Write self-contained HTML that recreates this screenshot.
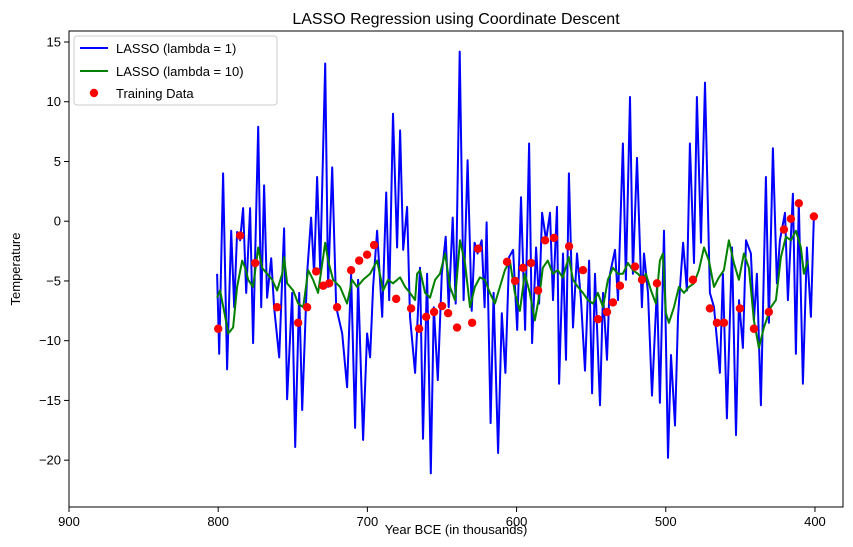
<!DOCTYPE html>
<html><head><meta charset="utf-8">
<style>
html,body{margin:0;padding:0;background:#fff;}
svg{display:block;font-family:"Liberation Sans","DejaVu Sans",sans-serif;}
</style></head>
<body>
<svg id="chart" width="853" height="547" viewBox="0 0 853 547" xmlns="http://www.w3.org/2000/svg">
<rect width="853" height="547" fill="#fff"/>
<text x="456" y="24" text-anchor="middle" font-size="16">LASSO Regression using Coordinate Descent</text>
<text x="456" y="534" text-anchor="middle" font-size="13">Year BCE (in thousands)</text>
<text transform="translate(20,269) rotate(-90)" text-anchor="middle" font-size="13">Temperature</text>
<g id="plot"></g>
<g id="axes"></g>
<g>
  <rect x="74" y="36" width="203" height="69" rx="3" fill="#fff" fill-opacity="0.8" stroke="#ccc"/>
  <line x1="80" y1="48" x2="108" y2="48" stroke="#0000ff" stroke-width="2"/>
  <text x="116" y="53" font-size="13">LASSO (lambda = 1)</text>
  <line x1="80" y1="71" x2="108" y2="71" stroke="#008000" stroke-width="2"/>
  <text x="116" y="76" font-size="13">LASSO (lambda = 10)</text>
  <circle cx="94" cy="93" r="4.2" fill="#ff0000"/>
  <text x="116" y="98" font-size="13">Training Data</text>
</g>
</svg>
<script>
const blueYears=[800.7,799.3,796.7,794,791.3,789.3,787.3,785.3,783.3,781.2,778.6,776.6,773.2,771.2,769.2,767.2,764.5,762.5,759.1,755.8,753.8,750.4,748.4,745.7,743.7,740.4,737.7,735.7,733.7,731.6,728.3,726.3,723.6,720.9,716.9,713.6,710.9,708.2,706.2,702.9,700.2,698.2,696.2,693.5,690.1,687.4,685.4,682.8,680.1,678.1,676,673.4,671.4,668,664.7,662.7,660,657.5,655.5,652.8,650.1,647.5,645.5,642.8,640.8,638.1,635.5,632.8,630.1,628.1,626.1,623.4,621.4,620.1,617.4,615.4,612.4,609.9,607.5,605,602.3,599.6,597,594.3,591.6,589.6,586.9,584.9,582.9,580.2,577.6,575.6,572.9,571.5,568.9,566.9,564.9,562.2,559.5,556.8,554.1,551.4,549.4,547.4,544.1,542.1,539.4,537.4,534,532,528.7,526.7,524,522,519.3,516,514.6,511.9,509.2,505.9,503.9,501.2,498.5,496.5,493.8,491.8,488.4,485.8,483.8,481.1,479.1,476.4,473.7,470.4,467.7,463.7,461.7,459,455.6,452.9,450.9,448.3,446.2,442.9,440.9,438.9,436.2,432.9,430.9,428.2,425.5,423.5,420.1,418.1,414.8,412.8,410.8,408.1,405.4,402.7,400.7];
const blueTemps=[-4.4,-11.1,4.0,-12.4,-0.8,-7.2,-0.9,-1.6,1.1,-6.0,1.1,-10.2,7.9,-7.2,3.0,-6.4,-3.1,-7.2,-11.4,-0.6,-14.9,-6.0,-18.9,-6.0,-15.8,-4.4,0.3,-4.4,3.7,-4.1,13.2,-5.5,4.5,-7.2,-9.4,-13.9,-4.4,-17.3,-4.9,-18.3,-9.4,-11.4,-5.5,-0.8,-8.0,2.4,-6.6,9.0,-2.2,7.6,-2.4,1.2,-8.0,-12.7,-3.9,-18.2,-4.4,-21.1,-7.2,-13.3,-4.4,-1.3,-7.2,0.3,-6.9,14.2,-6.6,5.1,-7.5,-1.8,-2.7,-1.6,-7.2,-0.1,-16.9,-6.0,-19.4,-7.7,-12.7,-3.0,-2.4,-9.1,2.0,-9.1,6.5,-10.2,-2.2,-6.9,0.7,-1.6,0.7,-6.6,1.2,-13.6,-2.7,-11.6,4.0,-8.9,-2.7,-6.6,-12.5,-3.3,-14.4,-4.4,-15.4,-6.0,-11.6,-4.4,-2.4,-6.6,6.5,-4.9,10.4,-4.4,5.3,-7.2,-2.7,-6.0,-14.6,-5.5,-15.2,-0.8,-19.8,-11.2,-17.1,-8.0,-1.8,-5.8,6.5,-3.5,10.4,-1.8,11.6,-6.0,-7.2,-12.7,-4.4,-16.5,-2.2,-17.9,-6.6,-10.6,-1.6,-2.7,-8.3,-4.4,-15.4,3.7,-8.5,6.1,-5.2,-1.6,0.7,-6.6,2.3,-11.1,1.6,-13.6,-2.2,-8.0,0.5];
const greenYears=[800.7,798.7,795.3,793.3,790,787.3,783.9,781.9,779.9,776.6,773.2,770.6,767.2,763.8,760.5,757.1,755.8,753.8,749.7,746.4,743,739.7,736.4,733,728.3,726.3,723,718.3,713.6,710.3,706.9,702.9,698.2,693.5,689.4,686.1,682.8,678.1,674.7,671.4,668,666.7,664.7,661.3,658,654.6,651.3,647.9,644.6,641.3,637.9,634.6,631.2,627.9,624.6,621.2,617.9,614.5,611.2,607.8,604.5,601.2,597.8,594.5,591.1,587.8,584.4,582.4,579.1,575.7,572.4,569,565,562.2,558.9,555.5,552.2,548.8,545.5,542.1,538.8,535.4,532,528.7,525.4,522,518.6,515.3,513.3,509.9,506.6,503.9,501.9,499.9,497.9,494.5,491.2,487.8,484.5,481.1,477.8,474.4,471.1,467.7,464.4,461,457.7,454.3,451,447.6,444.3,440.9,437.6,434.2,429.5,426.2,422.8,419.5,416.1,412.8,409.4,407.4,404.7];
const greenTemps=[-6.4,-5.8,-8.0,-9.4,-8.9,-5.5,-3.3,-3.9,-4.9,-5.5,-2.2,-3.9,-4.4,-4.9,-5.8,-4.4,-3.0,-5.2,-5.8,-6.9,-7.2,-4.1,-4.9,-6.0,-1.8,-3.3,-4.9,-5.5,-6.9,-4.9,-5.5,-4.9,-4.4,-3.3,-5.8,-4.9,-5.2,-4.7,-5.5,-6.0,-6.6,-4.4,-4.1,-6.0,-6.4,-4.9,-4.4,-2.7,-5.5,-6.6,-1.6,-3.5,-7.2,-5.5,-4.7,-4.9,-6.0,-6.9,-5.5,-4.1,-3.3,-6.0,-7.5,-4.4,-6.0,-8.3,-6.0,-3.9,-3.3,-4.4,-4.1,-4.7,-3.0,-4.9,-5.5,-6.0,-6.6,-6.9,-6.0,-7.2,-4.9,-3.9,-4.4,-4.4,-3.5,-4.1,-4.4,-4.9,-4.4,-5.8,-6.9,-3.3,-2.7,-7.7,-8.5,-7.2,-5.5,-6.0,-5.5,-5.2,-4.1,-2.2,-3.3,-5.5,-4.7,-4.1,-1.6,-3.5,-4.9,-2.7,-3.9,-8.3,-10.6,-8.9,-7.2,-6.6,-3.0,-1.3,-1.6,-0.8,-2.2,-4.4,-3.3,-1.8];
const trainYears=[800,785.3,775.2,760.5,746.4,740.4,734.3,729.6,725.6,720.3,710.9,705.5,700.2,695.5,680.7,670.7,665.3,660.6,655.3,649.9,645.9,639.9,629.8,625.8,606.4,601,595.7,590.3,585.6,580.9,574.9,564.8,555.5,545.4,539.4,535.4,530.7,520.6,515.9,505.9,481.8,470.4,465.7,461,450.3,440.9,430.9,420.8,416.1,410.8,400.7];
const trainTemps=[-9.0,-1.2,-3.5,-7.2,-8.5,-7.2,-4.2,-5.4,-5.2,-7.2,-4.1,-3.3,-2.8,-2.0,-6.5,-7.3,-9.0,-8.0,-7.6,-7.1,-7.7,-8.9,-8.5,-2.3,-3.4,-5.0,-3.9,-3.5,-5.8,-1.6,-1.4,-2.1,-4.1,-8.2,-7.6,-6.8,-5.4,-3.8,-4.9,-5.2,-4.9,-7.3,-8.5,-8.5,-7.3,-9.0,-7.6,-0.7,0.2,1.5,0.4];
const xTicks=[900,800,700,600,500,400];
const yTicks=[-20,-15,-10,-5,0,5,10,15];

const L=69,R=843,T=31,B=507;
const xDomain=[900,381.2], yDomain=[-23.92,15.92];
function xs(v){return L+(v-xDomain[0])/(xDomain[1]-xDomain[0])*(R-L);}
function ys(v){return B-(v-yDomain[0])/(yDomain[1]-yDomain[0])*(B-T);}
const NS="http://www.w3.org/2000/svg";
const plot=document.getElementById('plot');
const axes=document.getElementById('axes');
function mk(tag,attrs,parent){const e=document.createElementNS(NS,tag);for(const k in attrs)e.setAttribute(k,attrs[k]);parent.appendChild(e);return e;}

const clip=mk('clipPath',{id:'clipA'},plot);
mk('rect',{x:L,y:T,width:R-L,height:B-T},clip);
const g=mk('g',{'clip-path':'url(#clipA)'},plot);

const bl=mk('polyline',{points:blueYears.map((y,i)=>xs(y).toFixed(1)+','+ys(blueTemps[i]).toFixed(1)).join(' '),fill:'none',stroke:'#0000ff','stroke-width':2,'stroke-linejoin':'round'},g);


const gl=mk('polyline',{points:greenYears.map((y,i)=>xs(y).toFixed(1)+','+ys(greenTemps[i]).toFixed(1)).join(' '),fill:'none',stroke:'#008000','stroke-width':2,'stroke-linejoin':'round'},g);


trainYears.forEach((y,i)=>{
  const c=mk('circle',{cx:xs(y),cy:ys(trainTemps[i]),r:4.2,fill:'#ff0000'},g);
  
  
});

const frame=mk('rect',{x:L,y:T,width:R-L,height:B-T,fill:'none',stroke:'#000','stroke-width':1},axes);


xTicks.forEach(v=>{
  const x=xs(v);
  mk('line',{x1:x,y1:B,x2:x,y2:B+5,stroke:'#000'},axes);
  const t=mk('text',{x:x,y:B+19,'text-anchor':'middle','font-size':13},axes);
  t.textContent=v;
  
  
});
yTicks.forEach(v=>{
  const y=ys(v);
  mk('line',{x1:L-5,y1:y,x2:L,y2:y,stroke:'#000'},axes);
  const t=mk('text',{x:L-8,y:y+4.5,'text-anchor':'end','font-size':13},axes);
  t.textContent=v<0?'\u2212'+Math.abs(v):v;
  
  
});
</script>
</body></html>
